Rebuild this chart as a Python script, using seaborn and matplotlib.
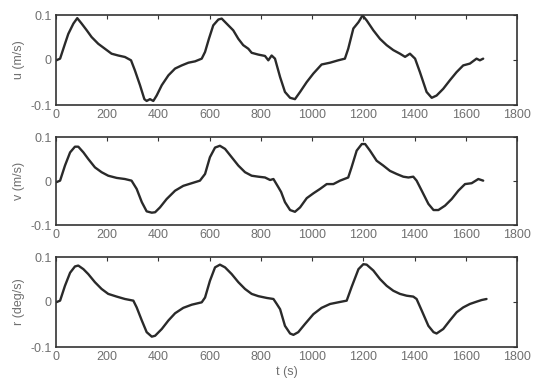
import matplotlib
matplotlib.use("Agg")
import matplotlib.pyplot as plt
import seaborn as sns

sns.set_theme(style="white")
plt.rcParams['font.family'] = ['Liberation Sans', 'DejaVu Sans']

# ---- data ----
t_u = [0, 16, 35, 48, 68, 83, 100, 120, 139, 165, 191, 217, 243, 269, 293, 308, 328, 345,
       354, 367, 380, 393, 413, 439, 465, 491, 517, 543, 569, 582, 597, 614, 634, 647, 666,
       692, 712, 731, 751, 764, 790, 816, 829, 842, 855, 875, 894, 914, 933, 953, 979,
       1005, 1037, 1070, 1102, 1128, 1141, 1161, 1181, 1197, 1213, 1239, 1265, 1291, 1317,
       1343, 1363, 1382, 1402, 1421, 1447, 1467, 1486, 1512, 1538, 1564, 1590, 1616, 1642,
       1655, 1668]
u = [-0.001, 0.003, 0.036, 0.058, 0.081, 0.093, 0.081, 0.066, 0.051, 0.036, 0.025, 0.014,
     0.010, 0.0067, -0.0007, -0.023, -0.056, -0.087, -0.091, -0.087, -0.091, -0.079, -0.056,
     -0.034, -0.019, -0.012, -0.006, -0.003, 0.003, 0.018, 0.047, 0.077, 0.090, 0.092,
     0.081, 0.066, 0.047, 0.033, 0.025, 0.016, 0.012, 0.009, -0.0007, 0.010, 0.003, -0.038,
     -0.071, -0.084, -0.087, -0.071, -0.049, -0.030, -0.010, -0.006, -0.0007, 0.003, 0.025,
     0.070, 0.084, 0.099, 0.088, 0.066, 0.047, 0.033, 0.022, 0.014, 0.007, 0.014, 0.003,
     -0.027, -0.071, -0.084, -0.079, -0.064, -0.045, -0.027, -0.012, -0.008, 0.003,
     -0.0007, 0.003]

t_v = [0, 16, 35, 55, 74, 87, 107, 126, 152, 178, 204, 237, 269, 295, 315, 335, 354, 374,
       387, 406, 432, 465, 497, 530, 562, 582, 601, 621, 640, 660, 686, 712, 738, 764, 790,
       816, 836, 849, 868, 879, 894, 914, 933, 953, 979, 1005, 1031, 1057, 1083, 1109, 1141,
       1154, 1174, 1194, 1207, 1226, 1252, 1278, 1304, 1330, 1356, 1376, 1395, 1408, 1428,
       1454, 1474, 1493, 1519, 1545, 1571, 1597, 1623, 1649, 1668]
v = [-0.003, 0.0008, 0.035, 0.065, 0.078, 0.078, 0.065, 0.050, 0.031, 0.020, 0.012, 0.007,
     0.0045, 0.0008, -0.018, -0.048, -0.069, -0.072, -0.071, -0.060, -0.041, -0.022, -0.011,
     -0.005, 0.0008, 0.016, 0.054, 0.076, 0.080, 0.073, 0.054, 0.035, 0.020, 0.012, 0.0098,
     0.008, 0.0023, 0.0045, -0.014, -0.025, -0.048, -0.066, -0.070, -0.060, -0.039, -0.028,
     -0.018, -0.007, -0.007, 0.0008, 0.008, 0.031, 0.069, 0.084, 0.084, 0.069, 0.046,
     0.035, 0.023, 0.016, 0.0098, 0.008, 0.0098, 0.0008, -0.022, -0.052, -0.066, -0.066,
     -0.056, -0.041, -0.022, -0.007, -0.005, 0.0045, 0.0008]

t_r = [0, 16, 35, 55, 74, 87, 107, 126, 152, 178, 204, 237, 269, 302, 315, 335, 354, 374,
       387, 413, 439, 465, 497, 530, 569, 582, 601, 621, 640, 660, 686, 712, 738, 764, 790,
       823, 849, 862, 875, 894, 914, 927, 946, 972, 1005, 1037, 1070, 1102, 1135, 1154,
       1181, 1200, 1213, 1239, 1265, 1291, 1317, 1343, 1369, 1395, 1408, 1428, 1454, 1474,
       1486, 1512, 1538, 1564, 1590, 1616, 1642, 1662, 1681]
r = [-0.0007, 0.003, 0.036, 0.065, 0.079, 0.081, 0.073, 0.062, 0.044, 0.029, 0.018, 0.012,
     0.0067, 0.003, -0.012, -0.041, -0.067, -0.077, -0.075, -0.060, -0.041, -0.025, -0.013,
     -0.006, -0.0007, 0.010, 0.047, 0.077, 0.083, 0.077, 0.062, 0.044, 0.029, 0.018, 0.013,
     0.009, 0.0067, -0.0044, -0.016, -0.053, -0.070, -0.073, -0.067, -0.049, -0.027,
     -0.013, -0.0044, -0.0007, 0.003, 0.033, 0.073, 0.084, 0.083, 0.070, 0.051, 0.036,
     0.025, 0.018, 0.014, 0.012, 0.0067, -0.019, -0.053, -0.067, -0.070, -0.060, -0.041,
     -0.023, -0.012, -0.0044, 0.0007, 0.0044, 0.0067]

ylabels = ["u (m/s)", "v (m/s)", "r (deg/s)"]
xticks = [0, 200, 400, 600, 800, 1000, 1200, 1400, 1600, 1800]
yticks = [-0.1, 0, 0.1]
ytick_labels = ["-0.1", "0", "0.1"]
xlabel = "t (s)"

fig = plt.figure(figsize=(5.35, 3.83), dpi=100)
fig.patch.set_facecolor("white")
W, H = 535, 383
boxes = [(56, 15, 517, 105), (56, 137, 517, 225), (56, 257, 517, 347)]
series = [(t_u, u), (t_v, v), (t_r, r)]
txt = "#707070"
for (x0, y0, x1, y1), (tt, yy), lab in zip(boxes, series, ylabels):
    ax = fig.add_axes([x0 / W, 1 - y1 / H, (x1 - x0) / W, (y1 - y0) / H])
    sns.lineplot(x=tt, y=yy, ax=ax, color="#2a2a2a", linewidth=1.7, sort=False)
    ax.set_xlim(0, 1800)
    ax.set_ylim(-0.1, 0.1)
    ax.set_xticks(xticks)
    ax.set_xticklabels([str(x) for x in xticks])
    ax.set_yticks(yticks)
    ax.set_yticklabels(ytick_labels)
    ax.tick_params(direction="in", top=True, right=True, length=3, width=0.8,
                   colors="#333333", labelcolor=txt, labelsize=9, pad=3)
    for s in ax.spines.values():
        s.set_color("#333333")
        s.set_linewidth(1.2)
    ax.set_ylabel(lab, color=txt, fontsize=9, labelpad=4)
    ax.set_xlabel("")
    ax.set_facecolor("white")
    ax.grid(False)
ax.set_xlabel(xlabel, color=txt, fontsize=9, labelpad=2)

fig.savefig("out.png", dpi=100, facecolor="white")
